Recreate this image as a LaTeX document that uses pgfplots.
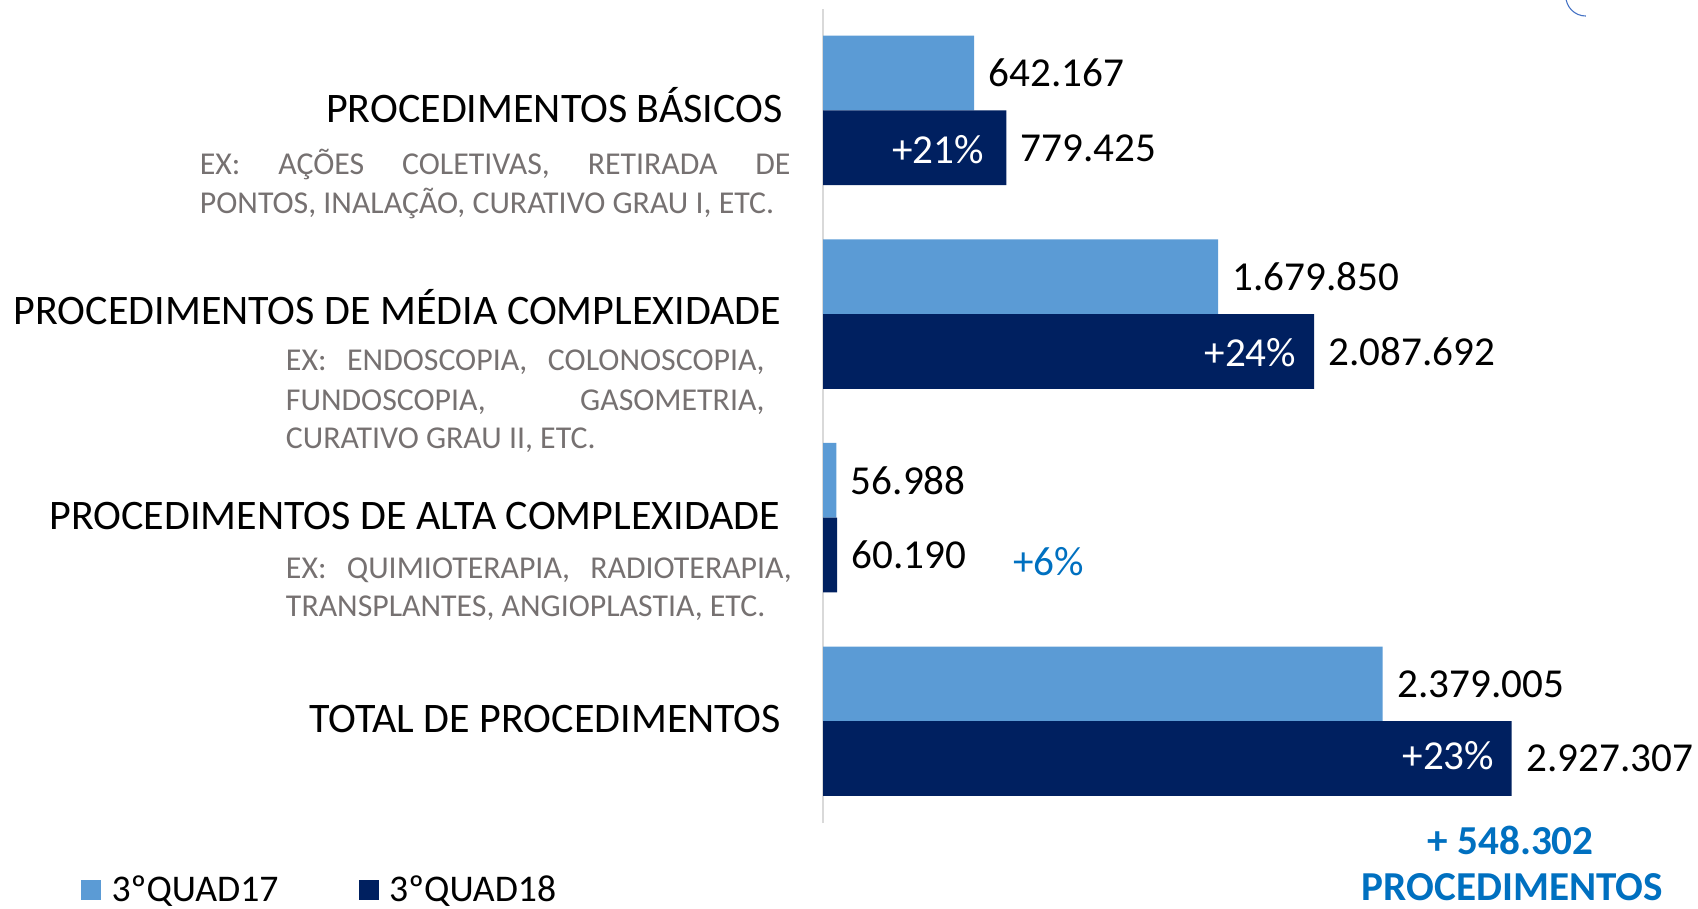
\documentclass[border=0pt]{standalone}
\usepackage{fontspec}
\setmainfont{Carlito}
\usepackage{pgfplots}
\pgfplotsset{compat=1.18}
\definecolor{lightbar}{HTML}{5B9BD5}
\definecolor{darkbar}{HTML}{002060}
\definecolor{bluetxt}{HTML}{0070C0}
\definecolor{graytxt}{HTML}{767171}
\definecolor{axisgray}{HTML}{D9D9D9}
\definecolor{arcblue}{HTML}{4472C4}
\newcommand{\numfont}{\fontsize{19}{22}\selectfont}
\newcommand{\titfont}{\fontsize{19.4}{22}\selectfont}
\newcommand{\descfont}{\fontsize{14.7}{18}\selectfont}
\begin{document}
\begin{tikzpicture}
\useasboundingbox (0,0) rectangle (784pt,-419.5pt);
\begin{axis}[
  at={(380pt,-380pt)}, anchor=south west,
  scale only axis, width=380.2pt, height=376pt,
  xmin=0, xmax=3500000, ymin=-0.5, ymax=3.5,
  xbar, bar width=34.5pt,
  axis x line=none, axis y line*=left,
  y axis line style={draw=axisgray, line width=1pt},
  ytick=\empty, xtick=\empty,
  point meta=explicit symbolic,
  nodes near coords,
  every node near coord/.append style={anchor=west, inner sep=0pt, xshift=6.5pt, font=\numfont, text=black},
  legend style={at={(-0.9018,-0.0824)}, anchor=west, draw=none, fill=none,
    inner sep=0pt, font=\fontsize{17.4}{20}\selectfont, nodes={inner sep=0pt},
    /tikz/every even column/.append style={column sep=37pt},
    /tikz/every odd column/.append style={column sep=4.8pt}},
  legend columns=2,
  legend image code/.code={\fill[#1] (0pt,-4.75pt) rectangle (9.35pt,4.75pt);},
  clip=false,
]
\addplot[fill=lightbar, draw=none, bar shift=17.25pt] coordinates {
  (642167,3) [642.167]
  (1679850,2) [1.679.850]
  (56988,1) [56.988]
  (2379005,0) [2.379.005]
};
\addlegendentry{3ºQUAD17}
\addplot[fill=darkbar, draw=none, bar shift=-17.25pt] coordinates {
  (779425,3) [779.425]
  (2087692,2) [2.087.692]
  (60190,1) [60.190]
  (2927307,0) [2.927.307]
};
\addlegendentry{3ºQUAD18}
\end{axis}
% category titles
\node[anchor=base east, inner sep=0pt, font=\titfont] at (361.6pt,-56.65pt) {PROCEDIMENTOS BÁSICOS};
\node[anchor=base east, inner sep=0pt, font=\titfont] at (360.85pt,-150.05pt) {PROCEDIMENTOS DE MÉDIA COMPLEXIDADE};
\node[anchor=base east, inner sep=0pt, font=\titfont] at (360.35pt,-244.4pt) {PROCEDIMENTOS DE ALTA COMPLEXIDADE};
\node[anchor=base east, inner sep=0pt, font=\titfont] at (360.85pt,-338.25pt) {TOTAL DE PROCEDIMENTOS};
% descriptions
\begin{scope}[every node/.style={anchor=base west, inner sep=0pt, font=\descfont, text=graytxt}]
\node at (92.1pt,-80.5pt) {\makebox[272.7pt][s]{EX: AÇÕES COLETIVAS, RETIRADA DE}};
\node at (92.1pt,-98.5pt) {PONTOS, INALAÇÃO, CURATIVO GRAU I, ETC.};
\node at (131.85pt,-170.85pt) {\makebox[221pt][s]{EX: ENDOSCOPIA, COLONOSCOPIA,}};
\node at (131.85pt,-189.75pt) {\makebox[221pt][s]{FUNDOSCOPIA, GASOMETRIA,}};
\node at (131.85pt,-207pt) {CURATIVO GRAU II, ETC.};
\node at (131.85pt,-267pt) {\makebox[233.5pt][s]{EX: QUIMIOTERAPIA, RADIOTERAPIA,}};
\node at (131.85pt,-284.7pt) {TRANSPLANTES, ANGIOPLASTIA, ETC.};
\end{scope}
% percentage labels
\node[anchor=base east, inner sep=0pt, font=\numfont, text=white] at (454.5pt,-75.4pt) {+21\%};
\node[anchor=base east, inner sep=0pt, font=\numfont, text=white] at (598.65pt,-169.3pt) {+24\%};
\node[anchor=base east, inner sep=0pt, font=\numfont, text=white] at (690.1pt,-355.5pt) {+23\%};
\node[anchor=base west, inner sep=0pt, font=\numfont, text=bluetxt] at (467.7pt,-265.5pt) {+6\%};
% total increase
\node[anchor=base, inner sep=0pt, font=\numfont\bfseries, text=bluetxt] at (697.5pt,-394.5pt) {+ 548.302};
\node[anchor=base, inner sep=0pt, font=\numfont\bfseries, text=bluetxt] at (698.3pt,-415.6pt) {PROCEDIMENTOS};
% decorative arc
\draw[arcblue, line width=0.5pt] (722.95pt,1.85pt) arc (180:270:9.25pt);
\end{tikzpicture}
\end{document}
